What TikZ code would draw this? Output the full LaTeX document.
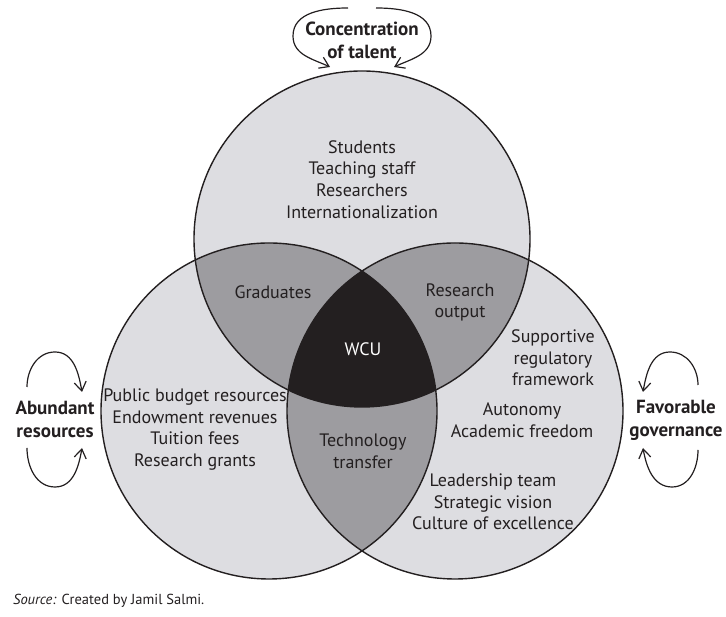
\documentclass[tikz,border=0pt]{standalone}
\usepackage{fontspec}
\setmainfont{PT Sans}
\usetikzlibrary{arrows.meta}

\definecolor{inkcol}{RGB}{35,31,32}
\definecolor{lightfill}{RGB}{221,221,225}
\definecolor{midfill}{RGB}{157,156,160}
\definecolor{darkfill}{RGB}{35,31,32}

\def\topc{(362,378) circle (168)}
\def\leftc{(269,206) circle (168)}
\def\rightc{(455,206) circle (168)}

\tikzset{
  ring/.style={draw=inkcol, line width=1.4pt},
  txt/.style={align=center, text=inkcol, inner sep=0pt, font=\fontsize{18}{21.7}\selectfont},
  boldtxt/.style={txt, font=\fontsize{19}{23}\selectfont\bfseries},
  turn/.style={draw=inkcol, line width=1.2pt, -{Straight Barb[length=9pt,width=12pt]}},
}

\begin{document}
\begin{tikzpicture}[x=1pt,y=1pt]
    \useasboundingbox (0,0) rectangle (726,617);

    % the three circles and their overlaps
    \fill[lightfill] \topc;
    \fill[lightfill] \leftc;
    \fill[lightfill] \rightc;
    \begin{scope}
      \clip \topc;
      \fill[midfill] \leftc;
      \fill[midfill] \rightc;
    \end{scope}
    \begin{scope}
      \clip \leftc;
      \fill[midfill] \rightc;
    \end{scope}
    \begin{scope}
      \clip \topc;
      \clip \leftc;
      \fill[darkfill] \rightc;
    \end{scope}
    \draw[ring] \topc;
    \draw[ring] \leftc;
    \draw[ring] \rightc;

    % texts
    \node[txt] (talentlist) at (362,437.5) {Students\\Teaching staff\\Researchers\\Internationalization};
    \node[txt] (graduates) at (273,325) {Graduates};
    \node[txt] (research) at (460,314.5) {Research\\output};
    \node[txt, text=white] (wcu) at (363,268) {WCU};
    \node[txt] (resourcelist) at (195,187.5) {Public budget resources\\Endowment revenues\\Tuition fees\\Research grants};
    \node[txt] (transfer) at (363,166) {Technology\\transfer};
    \node[txt] (framework) at (553,259) {Supportive\\regulatory\\framework};
    \node[txt] (autonomy) at (522,196.5) {Autonomy\\Academic freedom};
    \node[txt] (leadership) at (493,115) {Leadership team\\Strategic vision\\Culture of excellence};

    \node[boldtxt] (talent) at (362,576.5) {Concentration\\of talent};
    \node[boldtxt] (resources) at (55,198) {Abundant\\resources};
    \node[boldtxt] (governance) at (676,197) {Favorable\\governance};

    \node[txt, anchor=west, font=\fontsize{14.5}{17}\selectfont] (source) at (13,16) {\textit{Source:} Created by Jamil Salmi.};

    % turning arrows
    \draw[turn] (348,609) to[out=180,in=90] (293,581) to[out=-90,in=155] (330,550);
    \draw[turn] (376,609) to[out=0,in=90] (431,581) to[out=-90,in=25] (394,550);
    \draw[turn] (27,230) to[out=90,in=180] (55,265) to[out=0,in=100] (82,225);
    \draw[turn] (27,169) to[out=-90,in=180] (55,130) to[out=0,in=-100] (82,169);
    \draw[turn] (698,232) to[out=90,in=0] (670,265) to[out=180,in=80] (643,225);
    \draw[turn] (698,167) to[out=-90,in=0] (672,130) to[out=180,in=-80] (643,169);
\end{tikzpicture}
\end{document}
